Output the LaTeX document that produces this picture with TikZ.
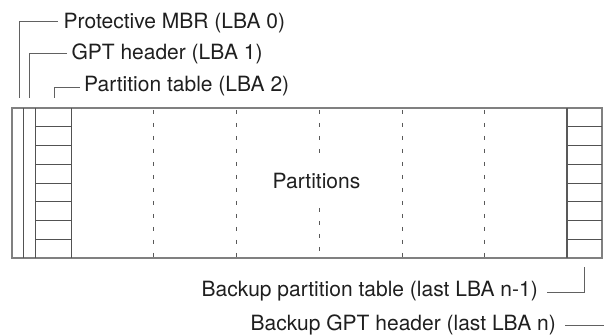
\documentclass[tikz,border=0pt]{standalone}
\usepackage{fontspec}
\setmainfont{TeX Gyre Heros}
\begin{document}
\begin{tikzpicture}[x=1pt,y=-1pt,
  lbl/.style={inner sep=0pt, font=\fontsize{21}{24}\selectfont, text=black!88},
  leader/.style={draw=black!62, line width=0.9pt},
  frame/.style={draw=black!50, line width=1.3pt},
  rule/.style={draw=black!68, line width=0.9pt},
  thickrule/.style={draw=black!65, line width=2.2pt},
  partline/.style={draw=black!65, line width=1pt, dash pattern=on 4pt off 9pt}]
\useasboundingbox (0,0) rectangle (604,336);

% disk outline
\draw[frame] (12,108) rectangle (602,258);

% protective MBR, GPT header, partition table columns
\draw[rule] (23,108) -- (23,258);
\draw[rule] (35,108) -- (35,258);
\draw[rule] (71,108) -- (71,258);
\foreach \k in {1,...,7}{
  \draw[rule] (35,108+\k*18.75) -- (71,108+\k*18.75);
  \draw[rule] (567,108+\k*18.75) -- (602,108+\k*18.75);
}
% backup partition table
\draw[thickrule] (567,108) -- (567,258);

% partitions
\foreach \x in {153.7,236.3,402,484.3}{
  \draw[partline] (\x,110) -- (\x,258);
}
\draw[partline] (319,110) -- (319,154);
\draw[partline] (319,208) -- (319,258);
\node[lbl, anchor=base] (parts) at (316.5,189) {Partitions};

% labels
\node[lbl, anchor=base west] (mbr) at (63.5,28.5) {Protective MBR (LBA 0)};
\node[lbl, anchor=base west] (gpt) at (71.3,60) {GPT header (LBA 1)};
\node[lbl, anchor=base west] (ptab) at (84,91.7) {Partition table (LBA 2)};
\node[lbl, anchor=base east] (bptab) at (538,296.7) {Backup partition table (last LBA n-1)};
\node[lbl, anchor=base east] (bgpt) at (556,330) {Backup GPT header (last LBA n)};

\coordinate (mbrEnd) at (19,98);
\coordinate (gptEnd) at (29,98);
\coordinate (ptabEnd) at (54,98);
\coordinate (bptabEnd) at (584,267);
\coordinate (bgptEnd) at (604,325);

\draw[leader] ([shift={(-6,-6.8)}]mbr.base west) -| (mbrEnd);
\draw[leader] ([shift={(-4.3,-6.7)}]gpt.base west) -| (gptEnd);
\draw[leader] ([shift={(-4,-4.4)}]ptab.base west) -| (ptabEnd);
\draw[leader] ([shift={(9,-4.7)}]bptab.base east) -| (bptabEnd);
\draw[leader] ([shift={(9,-5)}]bgpt.base east) -- (bgptEnd);
\end{tikzpicture}
\end{document}
